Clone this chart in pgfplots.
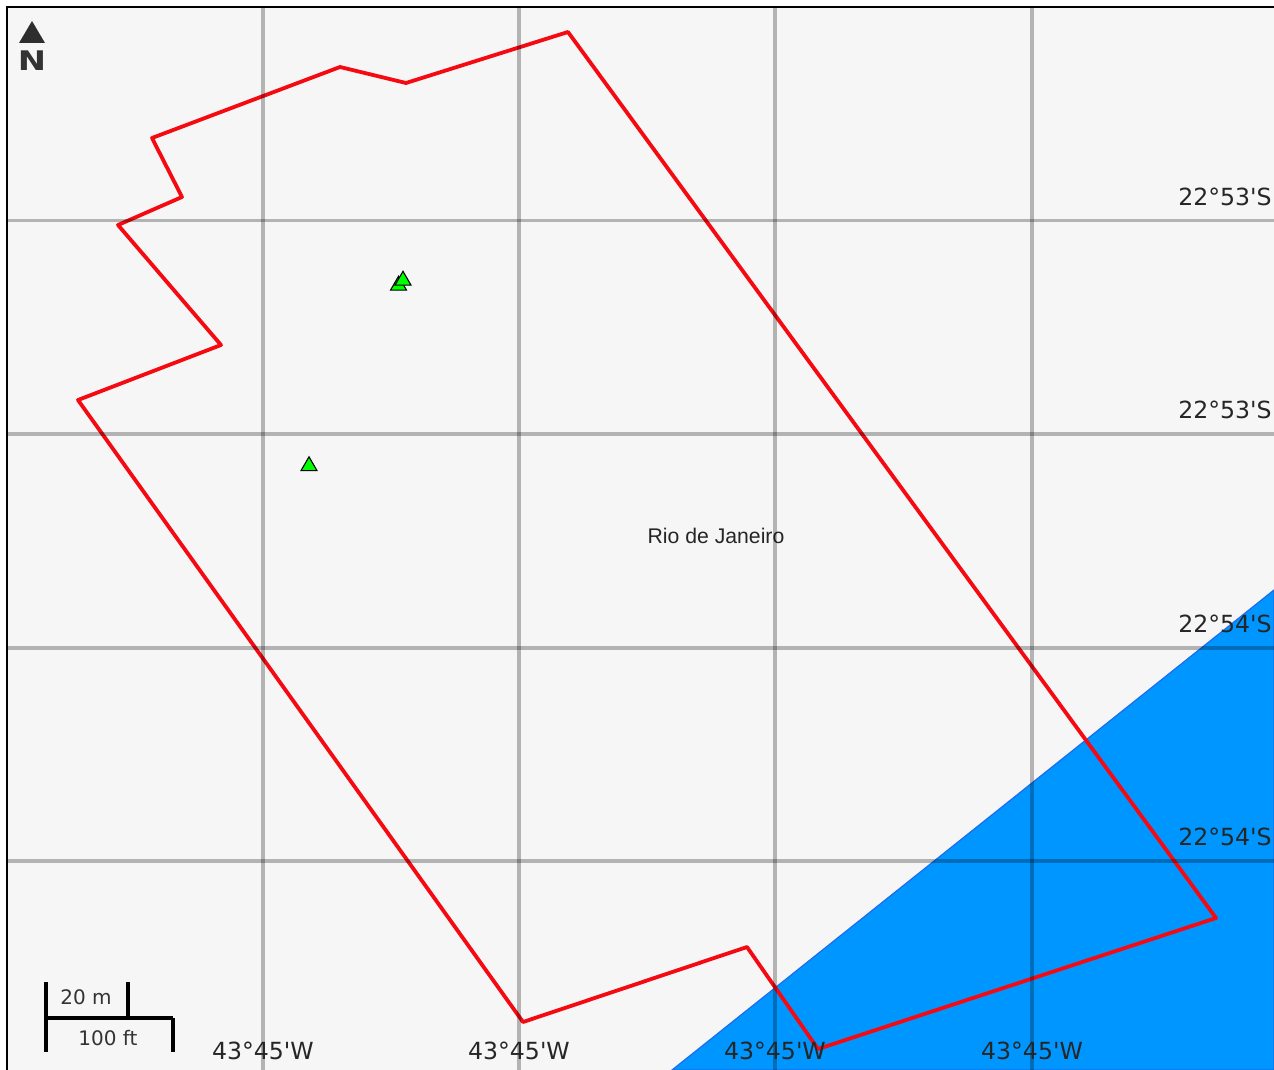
\documentclass[border=0pt]{standalone}
\usepackage{pgfplots}
\usepackage{fontspec}
\pgfplotsset{compat=1.18}
\setmainfont{DejaVu Sans}[Ligatures=TeXOff]
\newfontfamily\helv{Liberation Sans}
\definecolor{bg}{HTML}{F6F6F6}
\definecolor{water}{HTML}{0096FF}
\definecolor{wedge}{HTML}{1C6CF0}
\definecolor{redline}{HTML}{F50A12}
\definecolor{dk}{HTML}{333333}
\begin{document}
\begin{tikzpicture}
\useasboundingbox (-3.5pt,0pt) rectangle (633.5pt,535pt);
\begin{axis}[
  scale only axis, width=633.5pt, height=531.5pt,
  xmin=7, xmax=1274, ymin=7, ymax=1070, y dir=reverse,
  axis line style={draw=none},
  axis on top,
  clip=true,
  major tick length=0pt,
  xtick={263,519,775,1032},
  xticklabels={43°45'W,43°45'W,43°45'W,43°45'W},
  ytick={220.5,434,648,861},
  yticklabels={22°53'S,22°53'S,22°54'S,22°54'S},
  xticklabel pos=bottom, yticklabel pos=right,
  tick label style={font=\fontsize{11.8}{14}\selectfont, text=black!85, inner sep=0pt},
  xticklabel style={anchor=center, yshift=9.5pt},
  yticklabel style={anchor=east, xshift=-1pt, yshift=12pt},
  grid=major,
  major grid style={draw=black, opacity=0.27, line width=1.6pt},
]
% background
\addplot[fill=bg, draw=none] coordinates {(7,7) (1274,7) (1274,1070) (7,1070)} -- cycle;
% water
\addplot[fill=water, draw=wedge, line width=0.6pt] coordinates {(672,1070) (1274,590) (1274,1070)} -- cycle;
% area outline
\addplot[redline, line width=1.9pt, line join=round] coordinates {
 (568,32) (1216,918) (818,1049) (747,947) (523,1022) (78,400) (221,345)
 (118,225) (182,197) (152,138) (340,67) (406,83) (568,32)} -- cycle;
% sites
\addplot[only marks, mark=triangle*, mark size=4.6pt,
  mark options={fill=green, draw=black, line width=0.55pt}] coordinates {
 (398.5,285.5) (403,280.5) (309,466)};
% scale bar
\addplot[black, line width=1.6pt] coordinates {(46,982) (46,1052)};
\addplot[black, line width=1.6pt] coordinates {(46,1018) (173,1018)};
\addplot[black, line width=1.6pt] coordinates {(128,982) (128,1018)};
\addplot[black, line width=1.6pt] coordinates {(173,1018) (173,1052)};
% north arrow
\addplot[fill=dk!90!black, draw=none] coordinates {(19,43) (32,21) (45,43)} -- cycle;
\node[font=\fontsize{13.5}{15}\selectfont\bfseries, text=dk, inner sep=0pt, xscale=1.25] at (axis cs:32,61) {N};
\node[font=\fontsize{10}{12}\selectfont, text=black!80, inner sep=0pt] at (axis cs:86,997) {20 m};
\node[font=\fontsize{10}{12}\selectfont, text=black!80, inner sep=0pt] at (axis cs:108,1038) {100 ft};
\node[font=\helv\fontsize{10.6}{12}\selectfont, text=black!85, inner sep=0pt] at (axis cs:716,536) {Rio de Janeiro};
\end{axis}
\draw[black, line width=1.2pt] (0pt,0pt) -- (0pt,531.5pt) -- (633.5pt,531.5pt);
\end{tikzpicture}
\end{document}
